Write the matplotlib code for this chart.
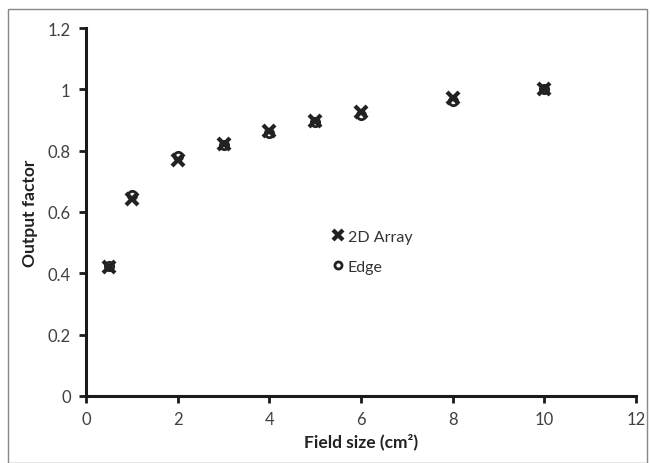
import matplotlib
matplotlib.use("Agg")
import matplotlib.pyplot as plt
from matplotlib.patches import Rectangle

# field sizes (cm^2) and measured output factors
field_size = [0.5, 1, 2, 3, 4, 5, 6, 8, 10]
array_2d = [0.42, 0.643, 0.771, 0.822, 0.865, 0.897, 0.927, 0.973, 1.0]
edge = [0.425, 0.655, 0.783, 0.818, 0.856, 0.895, 0.916, 0.963, 1.0]

x_ticks = [0, 2, 4, 6, 8, 10, 12]
y_ticks = [0, 0.2, 0.4, 0.6, 0.8, 1, 1.2]
y_tick_labels = ["0", "0.2", "0.4", "0.6", "0.8", "1", "1.2"]

plt.rcParams["font.family"] = ["Lato", "DejaVu Sans"]

fig = plt.figure(figsize=(6.5, 4.64), dpi=100)
ax = fig.add_axes([0.1323, 0.1444, 0.8462, 0.7931])

ax.plot(field_size, array_2d, linestyle="none", marker="x", markersize=9,
        markeredgewidth=3.0, color="#222222", label="2D Array", zorder=3)
ax.plot(field_size, edge, linestyle="none", marker="o", markersize=6,
        markerfacecolor="none", markeredgewidth=2.0, markeredgecolor="#222222",
        label="Edge", zorder=4)

ax.set_xlim(0, 12)
ax.set_ylim(0, 1.2)
ax.set_xticks(x_ticks)
ax.set_yticks(y_ticks)
ax.set_yticklabels(y_tick_labels)

ax.spines["top"].set_visible(False)
ax.spines["right"].set_visible(False)
for s in ["left", "bottom"]:
    ax.spines[s].set_linewidth(2.2)
    ax.spines[s].set_color("#1a1a1a")
ax.tick_params(axis="both", direction="out", length=5, width=2, color="#1a1a1a",
               labelsize=12, labelcolor="#404040", pad=6)

ax.set_xlabel("Field size (cm²)", fontsize=12.5, fontweight="bold", color="#222222", labelpad=4)
ax.set_ylabel("Output factor", fontsize=12.5, fontweight="bold", color="#222222", labelpad=7)

leg = ax.legend(loc="upper left", bbox_to_anchor=(0.44, 0.47), frameon=False,
                fontsize=11.5, handlelength=0.5, handletextpad=0.35, labelspacing=1.0,
                borderaxespad=0, markerscale=0.85)
for t in leg.get_texts():
    t.set_color("#333333")

# thin grey frame round the whole chart
fig.patches.append(Rectangle((8 / 650, 0), 639 / 650, 454 / 464, transform=fig.transFigure,
                             fill=False, edgecolor="#888888", linewidth=1))

fig.savefig("out.png", dpi=100)
